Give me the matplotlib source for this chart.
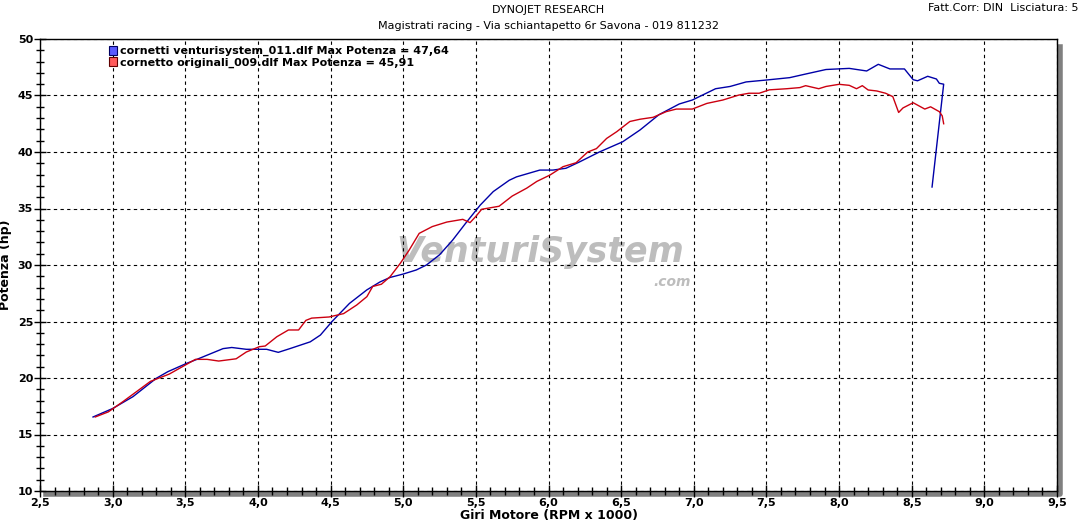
import matplotlib
matplotlib.use("Agg")
import matplotlib.pyplot as plt
from matplotlib.patches import Patch
from matplotlib.lines import Line2D
from matplotlib.ticker import MultipleLocator, FuncFormatter
import matplotlib.transforms as mtransforms

# ---- data ----
blue_rpm = [2.865, 3.00, 3.14, 3.30, 3.38, 3.51, 3.58, 3.76, 3.82, 3.92, 4.06, 4.14, 4.22,
            4.36, 4.43, 4.51, 4.63, 4.75, 4.84, 4.91, 5.00, 5.09, 5.16, 5.25, 5.34, 5.43,
            5.53, 5.62, 5.73, 5.78, 5.94, 6.03, 6.12, 6.21, 6.35, 6.51, 6.63, 6.76, 6.90,
            6.99, 7.15, 7.25, 7.36, 7.50, 7.66, 7.77, 7.91, 8.07, 8.19, 8.27, 8.35, 8.45,
            8.51, 8.54, 8.61, 8.67, 8.69, 8.72, 8.64]
blue_hp = [16.55, 17.3, 18.35, 19.97, 20.56, 21.3, 21.65, 22.6, 22.7, 22.54, 22.54, 22.27, 22.6,
           23.2, 23.8, 25.0, 26.6, 27.8, 28.5, 28.9, 29.2, 29.56, 30.0, 30.9, 32.2, 33.7,
           35.3, 36.5, 37.5, 37.8, 38.4, 38.4, 38.56, 39.1, 40.0, 40.9, 41.95, 43.3, 44.25,
           44.6, 45.6, 45.8, 46.2, 46.37, 46.58, 46.9, 47.3, 47.4, 47.17, 47.76, 47.35, 47.35,
           46.4, 46.3, 46.7, 46.46, 46.08, 46.0, 36.9]

red_rpm = [2.88, 2.97, 3.07, 3.26, 3.39, 3.57, 3.65, 3.73, 3.85, 3.92, 4.01, 4.05, 4.13, 4.21,
           4.28, 4.33, 4.37, 4.49, 4.59, 4.68, 4.75, 4.79, 4.85, 4.91, 4.98, 5.04, 5.11,
           5.20, 5.30, 5.41, 5.46, 5.50, 5.54, 5.66, 5.75, 5.85, 5.92, 6.01, 6.10, 6.19,
           6.27, 6.33, 6.40, 6.47, 6.56, 6.63, 6.72, 6.81, 6.88, 6.99, 7.09, 7.20, 7.31,
           7.38, 7.45, 7.52, 7.64, 7.73, 7.77, 7.86, 7.91, 8.00, 8.07, 8.12, 8.16, 8.20,
           8.26, 8.32, 8.37, 8.41, 8.44, 8.51, 8.59, 8.63, 8.69, 8.71, 8.72]
red_hp = [16.55, 17.0, 17.9, 19.7, 20.35, 21.65, 21.65, 21.5, 21.7, 22.3, 22.77, 22.83, 23.65, 24.25,
          24.25, 25.1, 25.3, 25.4, 25.7, 26.46, 27.2, 28.1, 28.3, 28.97, 30.15, 31.3, 32.8,
          33.4, 33.8, 34.04, 33.75, 34.3, 34.93, 35.2, 36.1, 36.8, 37.4, 37.96, 38.7, 39.05,
          40.0, 40.3, 41.2, 41.8, 42.7, 42.9, 43.07, 43.57, 43.8, 43.8, 44.3, 44.6, 45.04,
          45.2, 45.2, 45.5, 45.6, 45.7, 45.87, 45.6, 45.8, 45.99, 45.9, 45.6, 45.87, 45.49,
          45.4, 45.2, 44.9, 43.5, 43.9, 44.36, 43.8, 44.0, 43.57, 43.2, 42.5]

blue_label = "cornetti venturisystem_011.dlf Max Potenza = 47,64"
red_label = "cornetto originali_009.dlf Max Potenza = 45,91"
title_1 = "DYNOJET RESEARCH"
title_2 = "Magistrati racing - Via schiantapetto 6r Savona - 019 811232"
corner_text = "Fatt.Corr: DIN  Lisciatura: 5"
x_label = "Giri Motore (RPM x 1000)"
y_label = "Potenza (hp)"

BLUE = "#0000a8"
RED = "#cc0010"

fig = plt.figure(figsize=(10.82, 5.24), dpi=100)
fig.patch.set_facecolor("white")
ax = fig.add_axes([40 / 1082, 33 / 524, 1017 / 1082, 452 / 524])
ax.set_xlim(2.5, 9.5)
ax.set_ylim(10, 50)

# watermark
ax.text(0.492, 0.528, "VenturiSystem", transform=ax.transAxes, ha="center", va="center",
        fontsize=25, fontweight="heavy", style="italic", color="#bdbdbd", zorder=1)
ax.text(0.622, 0.462, ".com", transform=ax.transAxes, ha="center", va="center",
        fontsize=10, fontweight="heavy", style="italic", color="#bdbdbd", zorder=1)

ax.plot(blue_rpm, blue_hp, color=BLUE, lw=1.0, zorder=3)
ax.plot(red_rpm, red_hp, color=RED, lw=1.0, zorder=3)

# ticks & grid
ax.xaxis.set_major_locator(MultipleLocator(0.5))
ax.xaxis.set_minor_locator(MultipleLocator(0.1))
ax.yaxis.set_major_locator(MultipleLocator(5))
ax.yaxis.set_minor_locator(MultipleLocator(1))
ax.xaxis.set_major_formatter(FuncFormatter(lambda v, p: f"{v:.1f}".replace(".", ",")))
ax.yaxis.set_major_formatter(FuncFormatter(lambda v, p: f"{v:.0f}"))
ax.tick_params(which="major", direction="inout", length=8, width=1, labelsize=8, pad=1)
ax.tick_params(which="minor", direction="inout", length=6, width=1)
for lab in ax.get_xticklabels() + ax.get_yticklabels():
    lab.set_fontweight("bold")
ax.grid(True, which="major", color="black", linestyle=(0, (3, 3)), lw=0.8, zorder=0)

for s in ax.spines.values():
    s.set_color("black")
    s.set_linewidth(1.0)

# shadow on bottom and right
off = mtransforms.offset_copy(ax.transAxes, fig=fig, x=3, y=-3, units="dots")
ax.add_line(Line2D([0.003, 1.0, 1.0], [0.0, 0.0, 0.99], transform=off, color="#808080",
                   lw=4, clip_on=False, zorder=0.5, solid_joinstyle="round"))

ax.set_xlabel(x_label, fontsize=9, fontweight="bold", labelpad=1)
ax.set_ylabel(y_label, fontsize=9, fontweight="bold", labelpad=4)

# legend
handles = [Patch(facecolor="#5a5aff", edgecolor="#000060", lw=0.8),
           Patch(facecolor="#ff5a5a", edgecolor="#600000", lw=0.8)]
leg = ax.legend(handles, [blue_label, red_label], loc="upper left",
                bbox_to_anchor=(0.068, 0.985), frameon=False, fontsize=8,
                handlelength=0.7, handleheight=0.9, handletextpad=0.3,
                labelspacing=0.05, borderaxespad=0, borderpad=0)
for t in leg.get_texts():
    t.set_fontweight("bold")
leg.set_zorder(4)

fig.text(548 / 1082, 1 - 10 / 524, title_1, ha="center", va="center", fontsize=8)
fig.text(548 / 1082, 1 - 26 / 524, title_2, ha="center", va="center", fontsize=8)
fig.text(1078 / 1082, 1 - 8 / 524, corner_text, ha="right", va="center", fontsize=8)

fig.savefig("out.png", dpi=100)
